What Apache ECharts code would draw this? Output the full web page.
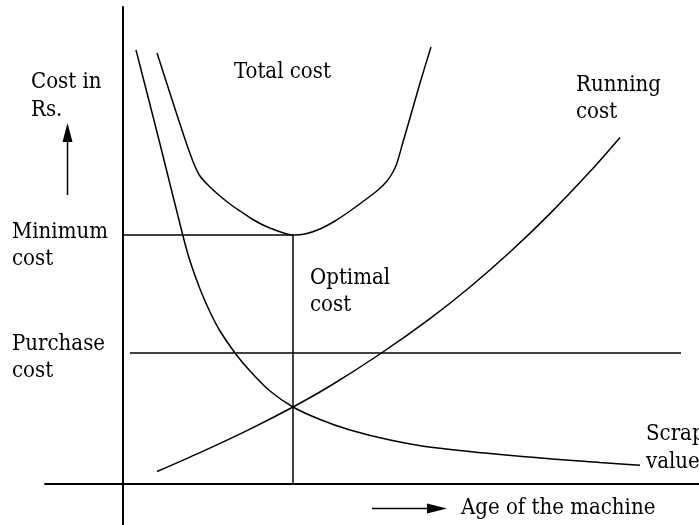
<!DOCTYPE html>
<html>
<head>
<meta charset="utf-8">
<script src="https://cdn.jsdelivr.net/npm/echarts@6/dist/echarts.min.js"></script>
<style>
  html, body { margin: 0; padding: 0; background: #fff; }
  #chart { width: 699px; height: 525px; }
</style>
</head>
<body>
<div id="chart"></div>
<script>
// Age of the machine (x) against cost in Rs. (y), schematic units.
const totalCost = [
  [3.4, 43.1], [4.4, 40.0], [5.4, 36.9], [6.4, 33.9], [7.1, 32.0],
  [7.7, 30.8], [8.7, 29.7], [9.7, 28.8], [10.7, 28.0], [11.7, 27.3],
  [12.9, 26.5], [14.0, 25.9], [15.2, 25.4], [16.4, 25.0], [17.0, 24.9],
  [18.2, 25.0], [19.7, 25.5], [21.2, 26.3], [22.7, 27.3], [24.2, 28.4],
  [25.5, 29.4], [26.4, 30.3], [27.0, 31.2], [27.4, 32.1], [28.0, 34.2],
  [28.7, 36.6], [29.7, 40.1], [30.8, 43.7]
];
const runningCost = [
  [3.4, 1.25], [7.7, 3.14], [12.7, 5.49], [17.0, 7.7], [20.7, 9.8],
  [25.7, 13.0], [30.7, 16.54], [34.7, 19.7], [38.7, 23.2], [42.7, 27.04],
  [46.7, 31.24], [49.7, 34.66]
];
const scrapValue = [
  [1.3, 43.4], [3.7, 34.0], [6.0, 24.8], [6.7, 22.3], [7.7, 19.5],
  [8.7, 17.2], [9.7, 15.3], [11.2, 13.1], [12.7, 11.3], [14.7, 9.3],
  [17.0, 7.7], [19.7, 6.45], [22.7, 5.4], [26.7, 4.4], [31.0, 3.65],
  [39.4, 2.8], [47.7, 2.15], [51.7, 1.87]
];
const purchaseCost = [[0.7, 13.1], [55.8, 13.1]];
const optimalAge = 17.0;
const minimumCost = 24.9;
const minimumCostLine = [[0, minimumCost], [optimalAge, minimumCost]];
const optimalLine = [[optimalAge, 0], [optimalAge, minimumCost]];

const INK = '#000';
const FONT = 'condensed 22px "DejaVu Serif Condensed", "DejaVu Serif", serif';

function label(text, x, y) {
  return {
    type: 'text', x: x, y: y, silent: true,
    style: { text: text, font: FONT, fill: INK, verticalAlign: 'top' }
  };
}

function curve(data, smooth) {
  return {
    type: 'line', data: data, smooth: smooth,
    showSymbol: false, symbol: 'none',
    lineStyle: { color: INK, width: 1.5 }, silent: true
  };
}

const chart = echarts.init(document.getElementById('chart'), null, { renderer: 'canvas' });
chart.setOption({
  animation: false,
  backgroundColor: '#fff',
  grid: { left: 45, right: 0, top: 7, bottom: 0 },
  xAxis: {
    type: 'value', min: -7.8, max: 57.6,
    axisLine: { onZero: true, lineStyle: { color: INK, width: 2 } },
    axisTick: { show: false }, axisLabel: { show: false }, splitLine: { show: false }
  },
  yAxis: {
    type: 'value', min: -4.1, max: 47.7,
    axisLine: { show: true, onZero: true, lineStyle: { color: INK, width: 2 } },
    axisTick: { show: false }, axisLabel: { show: false }, splitLine: { show: false }
  },
  series: [
    curve(totalCost, 0.3),
    curve(runningCost, 0.3),
    curve(scrapValue, 0.3),
    curve(purchaseCost, false),
    curve(minimumCostLine, false),
    curve(optimalLine, false)
  ],
  graphic: [
    label('Cost in', 31, 71),
    label('Rs.', 31, 99),
    label('Total cost', 234, 61),
    label('Running', 576, 74),
    label('cost', 576, 101),
    label('Minimum', 12, 221),
    label('cost', 12, 248),
    label('Optimal', 310, 267),
    label('cost', 310, 294),
    label('Purchase', 12, 333),
    label('cost', 12, 360),
    label('Scrap', 646, 423),
    label('value', 646, 451),
    label('Age of the machine', 461, 497),
    // vertical arrow beside the cost label
    { type: 'line', silent: true, shape: { x1: 67.5, y1: 195, x2: 67.5, y2: 138 },
      style: { stroke: INK, lineWidth: 1.5 } },
    { type: 'polygon', silent: true, shape: { points: [[67.5, 123], [62.5, 142], [72.5, 142]] },
      style: { fill: INK } },
    // horizontal arrow before the age label
    { type: 'line', silent: true, shape: { x1: 372, y1: 508.5, x2: 430, y2: 508.5 },
      style: { stroke: INK, lineWidth: 1.5 } },
    { type: 'polygon', silent: true, shape: { points: [[447, 508.5], [427, 503.5], [427, 513.5]] },
      style: { fill: INK } }
  ]
});
</script>
</body>
</html>
